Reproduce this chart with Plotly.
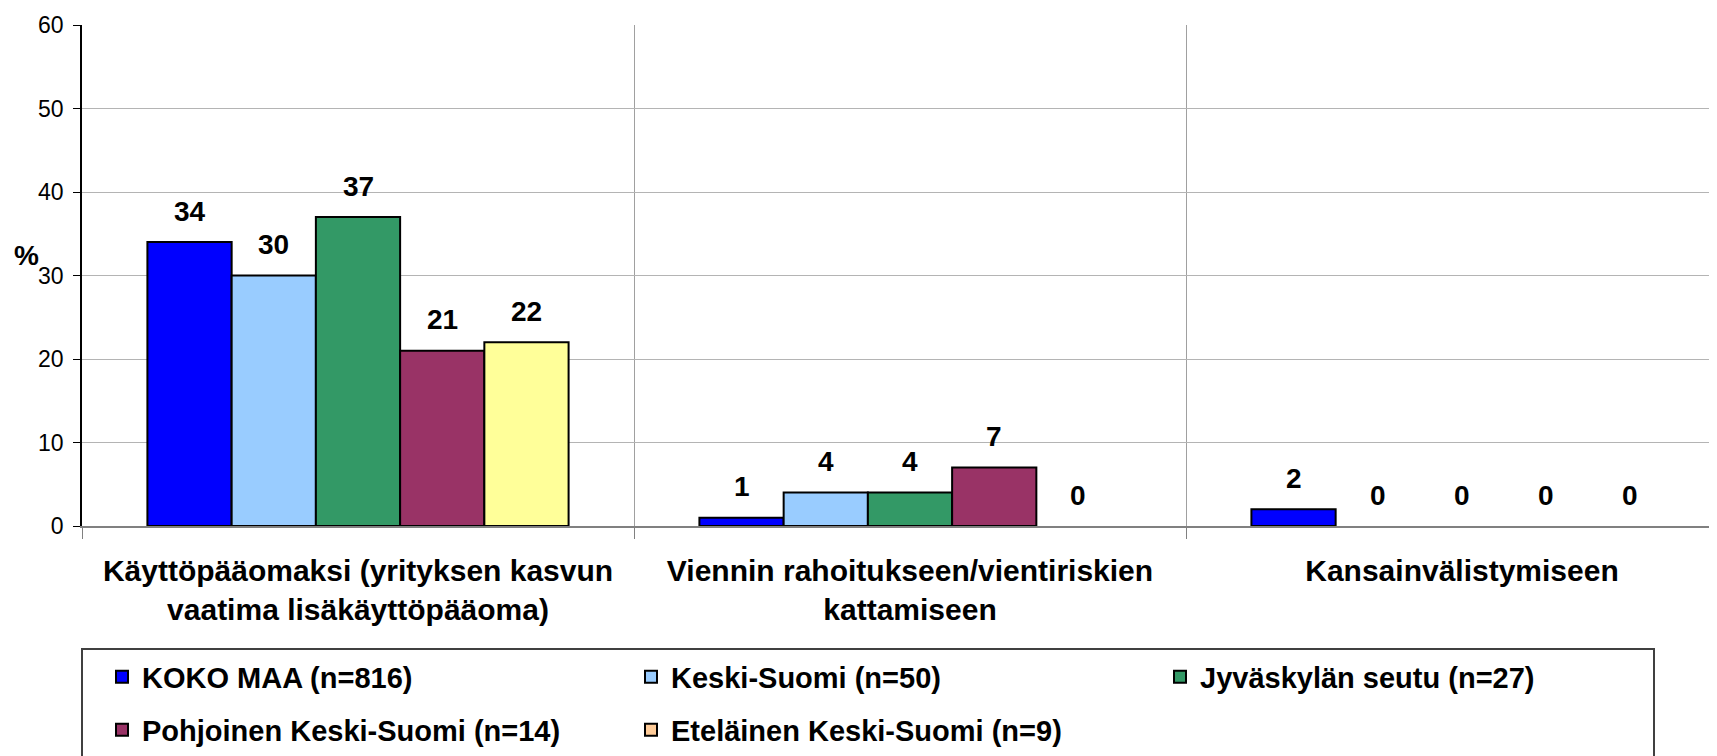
import plotly.graph_objects as go

categories = ["Käyttöpääomaksi (yrityksen kasvun<br>vaatima lisäkäyttöpääoma)",
              "Viennin rahoitukseen/vientiriskien<br>kattamiseen",
              "Kansainvälistymiseen"]
series_names = ["KOKO MAA (n=816)", "Keski-Suomi (n=50)", "Jyväskylän seutu (n=27)",
                "Pohjoinen Keski-Suomi (n=14)", "Eteläinen Keski-Suomi (n=9)"]
koko_maa = [34, 1, 2]
keski_suomi = [30, 4, 0]
jyvaskyla = [37, 4, 0]
pohjoinen = [21, 7, 0]
etelainen = [22, 0, 0]
y_ticks = [0, 10, 20, 30, 40, 50, 60]

values = [koko_maa, keski_suomi, jyvaskyla, pohjoinen, etelainen]
colors = ["#0000FF", "#99CCFF", "#339966", "#993366", "#FFFF99"]
legend_colors = ["#0000FF", "#99CCFF", "#339966", "#993366", "#FFCC99"]
legend_ids = ["legend", "legend", "legend", "legend2", "legend2"]

FONT = "Liberation Sans, Arial, sans-serif"
W, H = 1717, 756
OFF = 8  # page body margin
ML, MR, MT, MB = 74, 0, 17, 238
plot_w = W - ML - MR
plot_h = H - MT - MB
cat_px = 552
bargap = 0.237

fig = go.Figure()
for i, (name, vals) in enumerate(zip(series_names, values)):
    same = colors[i] == legend_colors[i]
    fig.add_trace(go.Bar(
        x=categories, y=vals, name=name,
        marker=dict(color=colors[i],
                    line=dict(color="black", width=[0 if v == 0 else 2 for v in vals])),
        offsetgroup=str(i), showlegend=same, legend=legend_ids[i],
        hoverinfo="skip",
    ))
    if not same:
        fig.add_trace(go.Bar(
            x=categories, y=[None] * len(categories), name=name,
            marker=dict(color=legend_colors[i], line=dict(color="black", width=2)),
            offsetgroup=str(i), showlegend=True, legend=legend_ids[i],
        ))

# value labels
n = len(series_names)
bw = (1 - bargap) / n
for i, vals in enumerate(values):
    for j, v in enumerate(vals):
        xc = j - (1 - bargap) / 2 + (i + 0.5) * bw
        fig.add_annotation(x=xc, y=v, xref="x", yref="y", text="<b>%d</b>" % v,
                           showarrow=False, yshift=31, yanchor="middle",
                           font=dict(family=FONT, size=28, color="black"))

def py(Y):
    return (H - MB - (Y - OFF)) / plot_h

def px(X):
    return (X - OFF - ML) / plot_w

# y-axis title "%"
fig.add_annotation(x=px(26), y=py(256), xref="paper", yref="paper", text="<b>%</b>",
                   showarrow=False, xanchor="center", yanchor="middle",
                   font=dict(family=FONT, size=28, color="black"))

# legend box
fig.add_shape(type="rect", xref="paper", yref="paper",
              x0=px(82), x1=px(1654), y0=py(649), y1=py(800),
              line=dict(color="#404040", width=2), fillcolor="rgba(0,0,0,0)")

legend_common = dict(orientation="h", xanchor="left", yanchor="middle",
                     font=dict(family=FONT, size=29, color="black", weight="bold"),
                     bgcolor="rgba(0,0,0,0)", borderwidth=0,
                     entrywidth=484, entrywidthmode="pixels", traceorder="normal")

fig.update_layout(
    width=W, height=H,
    margin=dict(l=ML, r=MR, t=MT, b=MB, pad=0),
    paper_bgcolor="white", plot_bgcolor="white",
    barmode="group", bargap=bargap, bargroupgap=0,
    font=dict(family=FONT, color="black"),
    legend=dict(x=px(102), y=py(677), **legend_common),
    legend2=dict(x=px(102), y=py(730), **legend_common),
    xaxis=dict(
        range=[-0.5, -0.5 + plot_w / cat_px],
        tickson="boundaries", ticks="outside", ticklen=11, tickcolor="#808080", tickwidth=1,
        showgrid=True, gridcolor="#A0A0A0", gridwidth=1,
        showline=True, linecolor="#808080", linewidth=2,
        tickfont=dict(family=FONT, size=30, color="black", weight="bold"),
        ticklabelstandoff=17,
    ),
    yaxis=dict(
        range=[0, 60], tickvals=y_ticks, ticktext=[str(t) for t in y_ticks],
        ticks="outside", ticklen=7, tickcolor="black",
        showgrid=True, gridcolor="#B4B4B4", gridwidth=1,
        showline=True, linecolor="black", linewidth=1.5,
        zeroline=False,
        tickfont=dict(family=FONT, size=23, color="black"),
        ticklabelstandoff=5,
    ),
)

fig.write_html("out.html")
